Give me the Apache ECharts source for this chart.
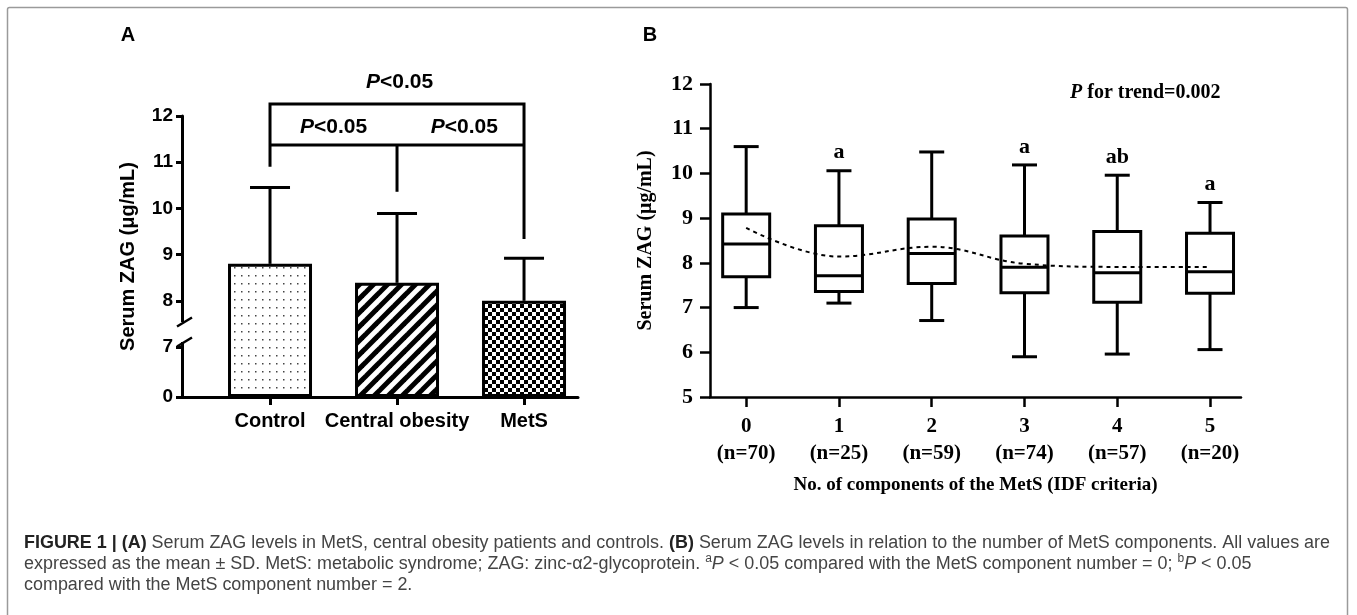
<!DOCTYPE html>
<html>
<head>
<meta charset="utf-8">
<title>Serum ZAG levels</title>
<script src="https://cdn.jsdelivr.net/npm/echarts@6/dist/echarts.min.js"></script>
<style>
  html, body { margin: 0; padding: 0; background: #fff; }
  #chart { width: 1357px; height: 615px; }
</style>
</head>
<body>
<div id="chart"></div>
<script>
// ---- panel A: mean + SD per group ----
const groupNames = ["Control", "Central obesity", "MetS"];
const groupMeans = [8.8, 8.39, 8.0];
const groupSD = [1.65, 1.5, 0.92];
const yTicksA = [0, 7, 8, 9, 10, 11, 12];

// ---- panel B: box plots by number of MetS components ----
const compCounts = [0, 1, 2, 3, 4, 5];
const compN = [70, 25, 59, 74, 57, 20];
const boxMin = [7.0, 7.1, 6.71, 5.9, 5.96, 6.06];
const boxQ1 = [7.69, 7.36, 7.54, 7.33, 7.12, 7.32];
const boxMedian = [8.42, 7.71, 8.21, 7.9, 7.78, 7.8];
const boxQ3 = [9.09, 8.83, 8.98, 8.6, 8.7, 8.66];
const boxMax = [10.6, 10.06, 10.48, 10.19, 9.96, 9.35];
const meanTrend = [8.78, 8.14, 8.36, 7.98, 7.91, 7.91];
const sigLetters = ["", "a", "", "a", "ab", "a"];
const yTicksB = [5, 6, 7, 8, 9, 10, 11, 12];

const SANS = '"Liberation Sans", Arial, sans-serif';
const SERIF = '"Liberation Serif", "Times New Roman", serif';
const CAP = 17.95; // caption font size

// broken y axis in A: 0 sits a bit more than one step below 7
const BREAK_SHIFT = 5.919;
function toAxisA(v) { return v === 0 ? 0 : v - BREAK_SHIFT; }
function fromAxisA(d) { return d < 0.5 ? 0 : Math.round(d + BREAK_SHIFT); }

function makePattern(kind) {
  const c = document.createElement("canvas");
  const ctx = c.getContext("2d");
  if (kind === "dots") {
    c.width = 7; c.height = 8;
    ctx.fillStyle = "#fff"; ctx.fillRect(0, 0, 7, 8);
    ctx.fillStyle = "#444"; ctx.fillRect(3, 3, 1.5, 1.5);
  } else if (kind === "stripes") {
    c.width = 14; c.height = 14;
    ctx.fillStyle = "#fff"; ctx.fillRect(0, 0, 14, 14);
    ctx.strokeStyle = "#000"; ctx.lineWidth = 5;
    [[-7, 7, 7, -7], [0, 14, 14, 0], [7, 21, 21, 7]].forEach(function (s) {
      ctx.beginPath(); ctx.moveTo(s[0], s[1]); ctx.lineTo(s[2], s[3]); ctx.stroke();
    });
  } else {
    c.width = 8; c.height = 8;
    ctx.fillStyle = "#fff"; ctx.fillRect(0, 0, 8, 8);
    ctx.fillStyle = "#000"; ctx.fillRect(0, 0, 4, 4); ctx.fillRect(4, 4, 4, 4);
  }
  return { image: c, repeat: "repeat" };
}
const patterns = [makePattern("dots"), makePattern("stripes"), makePattern("checks")];

var myChart = echarts.init(document.getElementById("chart"));

var option = {
  animation: false,
  backgroundColor: "#fff",
  grid: [
    { left: 182, top: 116, width: 396, height: 281 },
    { left: 710, top: 84, width: 531, height: 313 }
  ],
  xAxis: [
    {
      gridIndex: 0, type: "value", min: -0.693, max: 2.425,
      splitLine: { show: false },
      axisLine: { show: true, onZero: false, lineStyle: { color: "#000", width: 3 } },
      axisTick: { show: true, length: 8, lineStyle: { color: "#000", width: 3 }, customValues: [0, 1, 2] },
      axisLabel: {
        customValues: [0, 1, 2], margin: 14,
        color: "#000", fontFamily: SANS, fontWeight: "bold", fontSize: 20,
        formatter: function (v) { return groupNames[v]; }
      }
    },
    {
      gridIndex: 1, type: "value", min: -0.39, max: 5.334,
      splitLine: { show: false },
      axisLine: { show: true, onZero: false, lineStyle: { color: "#000", width: 2.5 } },
      axisTick: { show: true, length: 10, lineStyle: { color: "#000", width: 2.5 }, customValues: compCounts },
      axisLabel: {
        customValues: compCounts, margin: 16, lineHeight: 27,
        color: "#000", fontFamily: SERIF, fontWeight: "bold", fontSize: 21,
        formatter: function (v) { return v + "\n(n=" + compN[v] + ")"; }
      },
      name: "No. of components of the MetS (IDF criteria)",
      nameLocation: "middle", nameGap: 79,
      nameTextStyle: { color: "#000", fontFamily: SERIF, fontWeight: "bold", fontSize: 19 }
    }
  ],
  yAxis: [
    {
      gridIndex: 0, type: "value", min: 0, max: toAxisA(12),
      splitLine: { show: false },
      axisLine: { show: true, onZero: false, lineStyle: { color: "#000", width: 3 } },
      axisTick: { show: true, length: 6, lineStyle: { color: "#000", width: 3 }, customValues: yTicksA.map(toAxisA) },
      axisLabel: {
        customValues: yTicksA.map(toAxisA), margin: 9,
        color: "#000", fontFamily: SANS, fontWeight: "bold", fontSize: 19,
        formatter: function (v) { return String(fromAxisA(v)); }
      },
      name: "Serum ZAG (\u03bcg/mL)",
      nameLocation: "middle", nameGap: 44,
      nameTextStyle: { color: "#000", fontFamily: SANS, fontWeight: "bold", fontSize: 20 }
    },
    {
      gridIndex: 1, type: "value", min: 5, max: 12, interval: 1,
      splitLine: { show: false },
      axisLine: { show: true, onZero: false, lineStyle: { color: "#000", width: 2.5 } },
      axisTick: { show: true, length: 10, lineStyle: { color: "#000", width: 2.5 } },
      axisLabel: { margin: 17, color: "#000", fontFamily: SERIF, fontWeight: "bold", fontSize: 22 },
      name: "Serum ZAG (\u03bcg/mL)",
      nameLocation: "middle", nameGap: 54,
      nameTextStyle: { color: "#000", fontFamily: SERIF, fontWeight: "bold", fontSize: 20 }
    }
  ],
  series: [
    // error bars (mean + SD), drawn under the bars
    {
      type: "custom", xAxisIndex: 0, yAxisIndex: 0, z: 1, clip: false,
      data: groupMeans.map(function (m, i) { return [i, m, groupSD[i]]; }),
      renderItem: function (params, api) {
        const x = api.value(0), m = api.value(1), s = api.value(2);
        const p0 = api.coord([x, toAxisA(m)]);
        const p1 = api.coord([x, toAxisA(m + s)]);
        const st = { stroke: "#000", lineWidth: 3 };
        return { type: "group", children: [
          { type: "line", shape: { x1: p0[0], y1: p0[1], x2: p1[0], y2: p1[1] }, style: st },
          { type: "line", shape: { x1: p1[0] - 20, y1: p1[1], x2: p1[0] + 20, y2: p1[1] }, style: st }
        ] };
      }
    },
    {
      type: "bar", xAxisIndex: 0, yAxisIndex: 0, z: 2, barWidth: 84,
      data: groupMeans.map(function (m, i) {
        return { value: [i, toAxisA(m)], itemStyle: { color: patterns[i], borderColor: "#000", borderWidth: 3 } };
      })
    },
    // significance brackets and axis break
    {
      type: "custom", xAxisIndex: 0, yAxisIndex: 0, z: 3, clip: false,
      data: [[0]],
      renderItem: function (params, api) {
        const c = function (x, v) { return api.coord([x, toAxisA(v)]); };
        const st = { stroke: "#000", lineWidth: 3, fill: null };
        const top = 12.26, low = 11.37;
        const pText = function (x, v) {
          const p = c(x, v);
          return { type: "text", style: {
            x: p[0], y: p[1], align: "center", verticalAlign: "middle",
            text: "{i|P}{n|<0.05}",
            rich: {
              i: { fontFamily: SANS, fontWeight: "bold", fontStyle: "italic", fontSize: 21, fill: "#000" },
              n: { fontFamily: SANS, fontWeight: "bold", fontSize: 21, fill: "#000" }
            }
          } };
        };
        const a = c(0, top), b = c(2, top), a2 = c(0, low), b2 = c(2, low);
        const stub0 = c(0, 10.9), stub1 = c(1, 10.36), stub2 = c(2, 9.34), mid = c(1, low);
        // axis break marks
        const axTop = api.coord([-0.693, 1.623]), axBot = api.coord([-0.693, 1.19]);
        const ax = axTop[0];
        return { type: "group", children: [
          { type: "polyline", shape: { points: [[stub0[0], stub0[1]], [a[0], a[1]], [b[0], b[1]], [stub2[0], stub2[1]]] }, style: st },
          { type: "line", shape: { x1: a2[0], y1: a2[1], x2: b2[0], y2: b2[1] }, style: st },
          { type: "line", shape: { x1: mid[0], y1: mid[1], x2: stub1[0], y2: stub1[1] }, style: st },
          pText(1.02, 12.74), pText(0.5, 11.76), pText(1.53, 11.76),
          { type: "rect", shape: { x: ax - 4, y: axTop[1], width: 8, height: axBot[1] - axTop[1] }, style: { fill: "#fff" } },
          { type: "line", shape: { x1: ax - 5, y1: axTop[1] + 4.5, x2: ax + 10, y2: axTop[1] - 4.5 }, style: { stroke: "#000", lineWidth: 2.5 } },
          { type: "line", shape: { x1: ax - 5, y1: axBot[1] + 4.5, x2: ax + 10, y2: axBot[1] - 4.5 }, style: { stroke: "#000", lineWidth: 2.5 } }
        ] };
      }
    },
    // box plots
    {
      type: "custom", xAxisIndex: 1, yAxisIndex: 1, z: 2, clip: false,
      data: compCounts.map(function (k, i) { return [k, boxMin[i], boxQ1[i], boxMedian[i], boxQ3[i], boxMax[i]]; }),
      renderItem: function (params, api) {
        const x = api.value(0);
        const pMin = api.coord([x, api.value(1)]);
        const pQ1 = api.coord([x, api.value(2)]);
        const pMed = api.coord([x, api.value(3)]);
        const pQ3 = api.coord([x, api.value(4)]);
        const pMax = api.coord([x, api.value(5)]);
        const cx = pQ1[0], hw = 23.5, cw = 12.5;
        const st = { stroke: "#000", lineWidth: 3, fill: null };
        return { type: "group", children: [
          { type: "rect", shape: { x: cx - hw, y: pQ3[1], width: hw * 2, height: pQ1[1] - pQ3[1] }, style: st },
          { type: "line", shape: { x1: cx - hw, y1: pMed[1], x2: cx + hw, y2: pMed[1] }, style: st },
          { type: "line", shape: { x1: cx, y1: pQ3[1], x2: cx, y2: pMax[1] }, style: st },
          { type: "line", shape: { x1: cx, y1: pQ1[1], x2: cx, y2: pMin[1] }, style: st },
          { type: "line", shape: { x1: cx - cw, y1: pMax[1], x2: cx + cw, y2: pMax[1] }, style: st },
          { type: "line", shape: { x1: cx - cw, y1: pMin[1], x2: cx + cw, y2: pMin[1] }, style: st }
        ] };
      }
    },
    // significance letters above whiskers
    {
      type: "custom", xAxisIndex: 1, yAxisIndex: 1, z: 3, clip: false,
      data: compCounts.map(function (k, i) { return [k, boxMax[i]]; }),
      renderItem: function (params, api) {
        const p = api.coord([api.value(0), api.value(1)]);
        return { type: "text", style: {
          x: p[0], y: p[1] - 18, align: "center", verticalAlign: "middle",
          text: sigLetters[params.dataIndex],
          font: "bold 22px " + SERIF, fill: "#000"
        } };
      }
    },
    // mean trend (dotted)
    {
      type: "line", xAxisIndex: 1, yAxisIndex: 1, z: 4,
      data: compCounts.map(function (k, i) { return [k, meanTrend[i]]; }),
      smooth: 0.4, symbol: "none",
      lineStyle: { color: "#000", width: 2, type: [4, 4] }
    }
  ],
  graphic: [
    { type: "rect", shape: { x: 7.5, y: 7.5, width: 1340, height: 700, r: 2 }, style: { fill: null, stroke: "#9a9a9a", lineWidth: 1.5 }, silent: true },
    { type: "text", style: { x: 128, y: 35, text: "A", align: "center", verticalAlign: "middle", font: "bold 20px " + SANS, fill: "#000" } },
    { type: "text", style: { x: 650, y: 35, text: "B", align: "center", verticalAlign: "middle", font: "bold 20px " + SANS, fill: "#000" } },
    { type: "text", style: {
      x: 1070, y: 93, verticalAlign: "middle",
      text: "{i|P}{n| for trend=0.002}",
      rich: {
        i: { fontFamily: SERIF, fontWeight: "bold", fontStyle: "italic", fontSize: 20, fill: "#000" },
        n: { fontFamily: SERIF, fontWeight: "bold", fontSize: 20, fill: "#000" }
      }
    } },
    { type: "text", style: {
      x: 24, y: 543, verticalAlign: "middle",
      text: "{b|FIGURE 1 | (A)}{r| Serum ZAG levels in MetS, central obesity patients and controls. }{b|(B)}{r| Serum ZAG levels in relation to the number of MetS components. All values are}",
      rich: {
        b: { fontFamily: SANS, fontWeight: "bold", fontSize: CAP, fill: "#222" },
        r: { fontFamily: SANS, fontSize: CAP, fill: "#444" }
      }
    } },
    { type: "text", style: {
      x: 24, y: 564, verticalAlign: "middle",
      text: "{r|expressed as the mean \u00b1 SD. MetS: metabolic syndrome; ZAG: zinc-\u03b12-glycoprotein. }{s|a}{i|P}{r| < 0.05 compared with the MetS component number = 0; }{s|b}{i|P}{r| < 0.05}",
      rich: {
        r: { fontFamily: SANS, fontSize: CAP, fill: "#444", lineHeight: 22 },
        i: { fontFamily: SANS, fontSize: CAP, fontStyle: "italic", fill: "#444", lineHeight: 22 },
        s: { fontFamily: SANS, fontSize: 12, fill: "#444", lineHeight: 13, verticalAlign: "top" }
      }
    } },
    { type: "text", style: {
      x: 24, y: 585, verticalAlign: "middle",
      text: "compared with the MetS component number = 2.",
      font: CAP + "px " + SANS, fill: "#444"
    } }
  ]
};

myChart.setOption(option);
</script>
</body>
</html>
